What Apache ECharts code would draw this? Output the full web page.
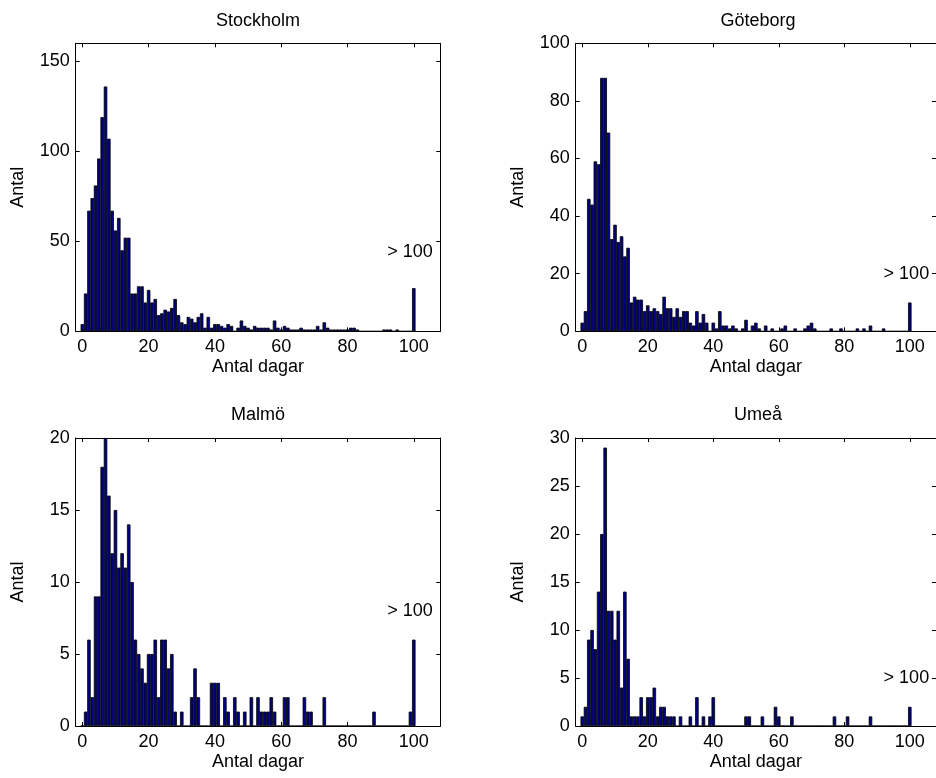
<!DOCTYPE html>
<html>
<head>
<meta charset="utf-8">
<script src="https://cdn.jsdelivr.net/npm/echarts@6/dist/echarts.min.js"></script>
<style>
  html, body { margin: 0; padding: 0; background: #ffffff; }
  #chart { width: 936px; height: 778px; }
</style>
</head>
<body>
<div id="chart"></div>
<script>
// Bin centres (days) for the histograms; the last bin collects everything above 100 days
const dagar = [
  0, 1, 2, 3, 4, 5, 6, 7, 8, 9,
  10, 11, 12, 13, 14, 15, 16, 17, 18, 19,
  20, 21, 22, 23, 24, 25, 26, 27, 28, 29,
  30, 31, 32, 33, 34, 35, 36, 37, 38, 39,
  40, 41, 42, 43, 44, 45, 46, 47, 48, 49,
  50, 51, 52, 53, 54, 55, 56, 57, 58, 59,
  60, 61, 62, 63, 64, 65, 66, 67, 68, 69,
  70, 71, 72, 73, 74, 75, 76, 77, 78, 79,
  80, 81, 82, 83, 84, 85, 86, 87, 88, 89,
  90, 91, 92, 93, 94, 95, 96, 97, 98, 99,
  100
];

const xTicks = [0, 20, 40, 60, 80, 100];

const stockholm = [
  4, 21, 67, 74, 81, 96, 119, 136, 107, 67,
  56, 63, 45, 52, 52, 21, 21, 25, 25, 16,
  23, 16, 18, 9, 10, 12, 11, 13, 18, 9,
  5, 4, 8, 7, 5, 8, 10, 2, 8, 2,
  4, 4, 3, 2, 4, 3, 0, 2, 6, 3,
  2, 1, 3, 2, 2, 2, 2, 1, 6, 2,
  1, 3, 2, 1, 1, 1, 2, 1, 1, 1,
  1, 3, 1, 5, 2, 1, 1, 1, 1, 1,
  1, 2, 2, 1, 0, 0, 0, 0, 0, 0,
  0, 1, 1, 1, 0, 1, 0, 0, 0, 0,
  24
];
const stockholmTicks = [0, 50, 100, 150];

const goteborg = [
  3, 7, 46, 44, 59, 58, 88, 88, 69, 32,
  37, 31, 33, 26, 29, 10, 12, 11, 11, 7,
  9, 7, 8, 7, 6, 12, 8, 8, 5, 8,
  5, 7, 7, 3, 2, 7, 3, 6, 3, 0,
  3, 1, 7, 2, 2, 1, 2, 1, 0, 1,
  4, 0, 2, 3, 1, 0, 2, 0, 1, 0,
  0, 1, 2, 0, 0, 1, 0, 0, 1, 2,
  3, 1, 0, 0, 0, 0, 1, 0, 0, 1,
  0, 0, 0, 0, 1, 0, 1, 0, 2, 0,
  0, 0, 1, 0, 0, 0, 0, 0, 0, 0,
  10
];
const goteborgTicks = [0, 20, 40, 60, 80, 100];

const malmo = [
  0, 1, 6, 2, 9, 9, 18, 20, 16, 12,
  15, 11, 12, 11, 14, 10, 6, 5, 4, 3,
  5, 5, 6, 2, 6, 6, 4, 5, 1, 0,
  1, 0, 0, 2, 4, 2, 0, 0, 0, 3,
  3, 3, 0, 2, 1, 0, 2, 1, 0, 1,
  0, 2, 0, 2, 1, 1, 1, 2, 1, 0,
  0, 2, 2, 0, 0, 0, 0, 2, 1, 1,
  0, 0, 0, 2, 0, 0, 0, 0, 0, 0,
  0, 0, 0, 0, 0, 0, 0, 0, 1, 0,
  0, 0, 0, 0, 0, 0, 0, 0, 0, 1,
  6
];
const malmoTicks = [0, 5, 10, 15, 20];

const umea = [
  1, 2, 9, 10, 8, 14, 20, 29, 12, 12,
  9, 12, 4, 14, 7, 1, 1, 1, 3, 1,
  3, 3, 4, 1, 2, 2, 1, 1, 1, 0,
  1, 0, 0, 1, 0, 3, 0, 1, 0, 1,
  3, 0, 0, 0, 0, 0, 0, 0, 0, 0,
  1, 1, 0, 0, 0, 1, 0, 0, 0, 2,
  1, 0, 0, 0, 1, 0, 0, 0, 0, 0,
  0, 0, 0, 0, 0, 0, 0, 1, 0, 0,
  0, 1, 0, 0, 0, 0, 0, 0, 1, 0,
  0, 0, 0, 0, 0, 0, 0, 0, 0, 0,
  2
];
const umeaTicks = [0, 5, 10, 15, 20, 25, 30];

// Position (days, count) of the "> 100" note in each panel
const noteStockholm = [92, 44];
const noteGoteborg = [92, 20];
const noteMalmo = [92, 8];
const noteUmea = [92, 5];

const panels = [
  { name: 'Stockholm', values: stockholm, yMax: 160, yTicks: stockholmTicks, note: noteStockholm, col: 0, row: 0 },
  { name: 'Göteborg',  values: goteborg,  yMax: 100, yTicks: goteborgTicks,  note: noteGoteborg,  col: 1, row: 0 },
  { name: 'Malmö',     values: malmo,     yMax: 20,  yTicks: malmoTicks,     note: noteMalmo,     col: 0, row: 1 },
  { name: 'Umeå',      values: umea,      yMax: 30,  yTicks: umeaTicks,      note: noteUmea,      col: 1, row: 1 }
];

// Layout of the 2x2 panel grid (pixels)
const FONT = "'Liberation Sans', Arial, Helvetica, sans-serif";
const FS = 18;
const X_MIN = -2, X_MAX = 108;
const W = 364.6, H = 288;
const LEFTS = [75.7, 575.7];
const TOPS = [43.3, 438];
const BAR_COLOR = '#000080';

const grids = [], xAxes = [], yAxes = [], series = [], titles = [];

panels.forEach((p, i) => {
  const left = LEFTS[p.col], top = TOPS[p.row];
  grids.push({ left: left, top: top, width: W, height: H, containLabel: false });

  titles.push({
    text: p.name,
    left: left + W / 2,
    top: top - 31.5,
    textAlign: 'center',
    padding: 0,
    textStyle: { fontFamily: FONT, fontSize: FS, fontWeight: 'normal', color: '#000' }
  });

  const lineStyle = { color: '#000', width: 1 };
  // bottom x axis with labels
  xAxes.push({
    type: 'value', gridIndex: i, position: 'bottom', min: X_MIN, max: X_MAX,
    name: 'Antal dagar', nameLocation: 'middle', nameGap: 27,
    nameTextStyle: { fontFamily: FONT, fontSize: FS, color: '#000' },
    axisLine: { show: true, onZero: false, lineStyle: lineStyle },
    axisTick: { show: true, inside: true, length: 4, customValues: xTicks, lineStyle: lineStyle },
    axisLabel: { show: true, customValues: xTicks, margin: 7, fontFamily: FONT, fontSize: FS, color: '#000' },
    splitLine: { show: false }
  });
  // top box edge with inward ticks
  xAxes.push({
    type: 'value', gridIndex: i, position: 'top', min: X_MIN, max: X_MAX,
    axisLine: { show: true, onZero: false, lineStyle: lineStyle },
    axisTick: { show: true, inside: true, length: 4, customValues: xTicks, lineStyle: lineStyle },
    axisLabel: { show: false },
    splitLine: { show: false }
  });
  // left y axis with labels
  yAxes.push({
    type: 'value', gridIndex: i, position: 'left', min: 0, max: p.yMax,
    name: 'Antal', nameLocation: 'middle', nameGap: 49,
    nameTextStyle: { fontFamily: FONT, fontSize: FS, color: '#000' },
    axisLine: { show: true, onZero: false, lineStyle: lineStyle },
    axisTick: { show: true, inside: true, length: 4, customValues: p.yTicks, lineStyle: lineStyle },
    axisLabel: { show: true, customValues: p.yTicks, margin: 6, fontFamily: FONT, fontSize: FS, color: '#000' },
    splitLine: { show: false }
  });
  // right box edge with inward ticks
  yAxes.push({
    type: 'value', gridIndex: i, position: 'right', min: 0, max: p.yMax,
    axisLine: { show: true, onZero: false, lineStyle: lineStyle },
    axisTick: { show: true, inside: true, length: 4, customValues: p.yTicks, lineStyle: lineStyle },
    axisLabel: { show: false },
    splitLine: { show: false }
  });

  series.push({
    type: 'bar',
    name: p.name,
    xAxisIndex: 2 * i, yAxisIndex: 2 * i,
    data: dagar.map((d, j) => [d, p.values[j]]),
    barWidth: W / (X_MAX - X_MIN) + 0.2,
    itemStyle: { color: BAR_COLOR, borderColor: '#000', borderWidth: 0.8 },
    silent: true
  });

  series.push({
    type: 'scatter',
    xAxisIndex: 2 * i, yAxisIndex: 2 * i,
    data: [p.note],
    symbolSize: 0,
    silent: true,
    itemStyle: { opacity: 1 },
    label: {
      show: true, position: 'right', distance: 0,
      formatter: '> 100',
      fontFamily: FONT, fontSize: FS, color: '#000', opacity: 1
    }
  });
});

const chart = echarts.init(document.getElementById('chart'), null, { renderer: 'canvas' });
chart.setOption({
  animation: false,
  backgroundColor: '#ffffff',
  title: titles,
  grid: grids,
  xAxis: xAxes,
  yAxis: yAxes,
  series: series
});
</script>
</body>
</html>
